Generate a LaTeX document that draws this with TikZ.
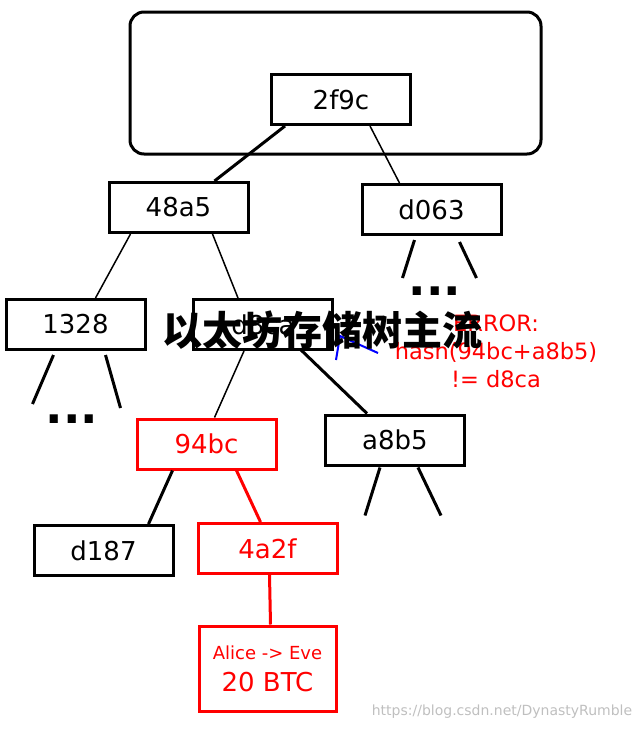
\documentclass[tikz,border=0pt]{standalone}
\usepackage{fontspec}
\setmainfont{DejaVu Sans}
\newfontfamily\cjk{Noto Sans CJK SC}
\begin{document}
\begin{tikzpicture}[x=1pt,y=-1pt,
	hashbox/.style={draw, line width=3pt, minimum width=139pt, minimum height=50pt, inner sep=0pt, font=\fontsize{26}{30}\selectfont},
	badbox/.style={hashbox, draw=red, text=red},
	thin/.style={line width=1.5pt},
	fat/.style={line width=3pt},
	dots/.style={font=\fontsize{46}{46}\bfseries\selectfont}]
	\useasboundingbox (0,0) rectangle (640,731);

	% root block
	\draw[fat, rounded corners=14pt] (130,12) rectangle (541,154);
	\node[hashbox] (r2f9c) at (341,99.5) {2f9c};

	% second level
	\node[hashbox] (h48a5) at (178.5,207.5) {48a5};
	\node[hashbox] (hd063) at (431.5,209.5) {d063};
	\draw[fat] ([xshift=-56pt]r2f9c.south) -- ([xshift=36pt]h48a5.north);
	\draw[thin] ([xshift=29pt]r2f9c.south) -- ([xshift=-32pt]hd063.north);

	% third level
	\node[hashbox] (h1328) at (75.5,324.5) {1328};
	\node[hashbox] (hd8ca) at (263,324.5) {d8ca};
	\draw[thin] ([xshift=-48pt]h48a5.south) -- ([xshift=20pt]h1328.north);
	\draw[thin] ([xshift=34pt]h48a5.south) -- ([xshift=-25pt]hd8ca.north);

	% stubs
	\draw[fat] ([xshift=-17pt,yshift=-4pt]hd063.south) -- +(-12,38);
	\draw[fat] ([xshift=28pt,yshift=-6pt]hd063.south) -- +(17,36);
	\node[dots] (dd063) at (435,291) {...};
	\draw[fat] ([xshift=-22pt,yshift=-4pt]h1328.south) -- +(-21,49);
	\draw[fat] ([xshift=30pt,yshift=-4pt]h1328.south) -- +(15,53);
	\node[dots] (d1328) at (72,419) {...};

	% fourth level
	\node[badbox] (h94bc) at (206.5,444) {94bc};
	\node[hashbox] (ha8b5) at (395,440) {a8b5};
	\draw[thin] ([xshift=-19pt]hd8ca.south) -- ([xshift=8pt]h94bc.north);
	\draw[fat] ([xshift=37pt,yshift=2pt]hd8ca.south) -- ([xshift=-28pt]ha8b5.north);
	\draw[fat] ([xshift=-15pt,yshift=-1pt]ha8b5.south) -- +(-15,48);
	\draw[fat] ([xshift=23pt,yshift=-1pt]ha8b5.south) -- +(23,48);

	% leaves
	\node[hashbox] (hd187) at (103.5,550.5) {d187};
	\node[badbox] (h4a2f) at (267.5,548.5) {4a2f};
	\draw[fat] ([xshift=-34pt]h94bc.south) -- ([xshift=45pt]hd187.north);
	\draw[fat, red] ([xshift=30pt]h94bc.south) -- ([xshift=-7pt]h4a2f.north);
	\node[badbox, minimum width=137pt, minimum height=85pt, align=center] (tx) at (267.5,668.5)
		{{\fontsize{18}{22}\selectfont Alice -> Eve}\\[2pt]20 BTC};
	\draw[fat, red] ([xshift=2pt]h4a2f.south) -- ([xshift=3pt]tx.north);

	% error note
	\node[text=red, align=center, font=\fontsize{22.5}{28}\selectfont] (err) at (496,351)
		{ERROR:\\hash(94bc+a8b5)\\!= d8ca};
	\draw[blue, line width=2pt] (378,353) -- (340,336) -- (336,360);

	% watermarks
	\node[font=\cjk\fontsize{40}{44}\bfseries\selectfont] (wm) at (322,330) {以太坊存储树主流};
	\node[text=lightgray, font=\fontsize{14}{16}\selectfont] (url) at (502,712) {https://blog.csdn.net/DynastyRumble};
\end{tikzpicture}
\end{document}
